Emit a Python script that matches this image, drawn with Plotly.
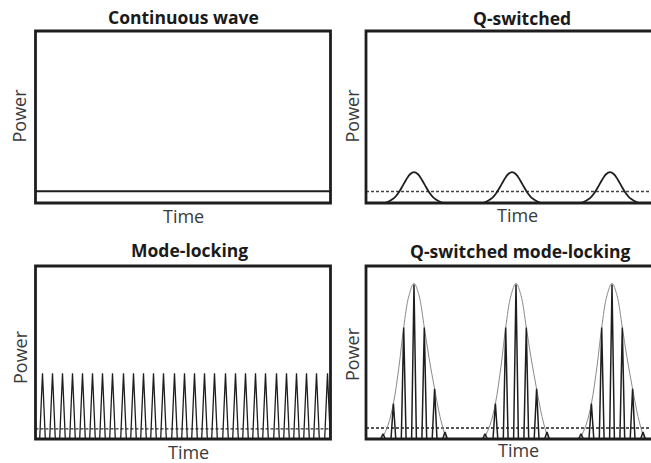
import plotly.graph_objects as go

W, H = 651, 463

# ---------------- data (time in panel units, power relative to panel height) -------------
cw_level = 0.068

qs_pulse_centers = [48, 146, 244]
qs_pulse_offsets = [-29, -24, -20, -16, -12, -8, -4, 0, 4, 8, 12, 16, 20, 24, 29]
qs_pulse_power = [0.0, 0.013, 0.028, 0.055, 0.093, 0.134, 0.167, 0.18,
                  0.167, 0.134, 0.093, 0.055, 0.028, 0.013, 0.0]
qs_threshold = 0.067

ml_spike_times = [7, 17, 27, 37, 47, 57, 67, 77, 88, 98, 108, 118, 128, 139, 149,
                  159, 169, 179, 190, 200, 210, 220, 230, 241, 251, 261, 271, 281, 292]
ml_spike_power = 0.38
ml_threshold = 0.058

qml_group_centers = [48, 150, 246]
qml_spike_offsets = [-31, -20.6, -10.3, 0, 10.3, 20.6, 31]
qml_spike_power = [0.03, 0.205, 0.645, 0.893, 0.645, 0.29, 0.04]
qml_env_offsets = [-32, -26, -20.6, -15, -10.3, -5, 0, 5, 10.3, 15, 20.6, 26, 32]
qml_env_power = [0.0, 0.08, 0.205, 0.42, 0.645, 0.83, 0.9, 0.83, 0.645, 0.47, 0.29, 0.13, 0.0]
qml_threshold = 0.064

titles = ["Continuous wave", "Q-switched", "Mode-locking", "Q-switched mode-locking"]
x_label = "Time"
y_label = "Power"

# ---------------- layout helpers -------------
def px(x):
    return x / W

def py(y):
    return 1 - y / H

LEFT = (35.5, 330.5)
RIGHT = (366.0, 661.0)
TOP = (31.0, 203.0)
BOT = (266.0, 439.0)
XR_LEFT = LEFT[1] - LEFT[0]
XR_RIGHT = W - RIGHT[0]

INK = "#1e1e1e"

fig = go.Figure()

def spikes(times, powers, half):
    xs, ys = [], []
    for t, p in zip(times, powers):
        xs += [t - half, t, t + half, None]
        ys += [0, p, 0, None]
    return xs, ys

# Panel 1: continuous wave
fig.add_trace(go.Scatter(x=[0, XR_LEFT], y=[cw_level, cw_level], mode="lines",
                         line=dict(color=INK, width=2), xaxis="x", yaxis="y"))

# Panel 2: Q-switched
fig.add_trace(go.Scatter(x=[0, XR_RIGHT], y=[qs_threshold, qs_threshold], mode="lines",
                         line=dict(color="#444", width=1.3, dash="3px,2px"), xaxis="x2", yaxis="y2"))
for c in qs_pulse_centers:
    fig.add_trace(go.Scatter(x=[c + o for o in qs_pulse_offsets], y=qs_pulse_power, mode="lines",
                             line=dict(color=INK, width=1.8, shape="spline"), xaxis="x2", yaxis="y2"))

# Panel 3: mode-locking
fig.add_trace(go.Scatter(x=[0, XR_LEFT], y=[ml_threshold, ml_threshold], mode="lines",
                         line=dict(color="#333", width=1.3, dash="3px,2px"), xaxis="x3", yaxis="y3"))
sx, sy = spikes(ml_spike_times, [ml_spike_power] * len(ml_spike_times), 2.8)
fig.add_trace(go.Scatter(x=sx, y=sy, mode="lines", line=dict(color=INK, width=1.3),
                         xaxis="x3", yaxis="y3"))

# Panel 4: Q-switched mode-locking
fig.add_trace(go.Scatter(x=[0, XR_RIGHT], y=[qml_threshold, qml_threshold], mode="lines",
                         line=dict(color="#222", width=1.4, dash="3px,2px"), xaxis="x4", yaxis="y4"))
for c in qml_group_centers:
    fig.add_trace(go.Scatter(x=[c + o for o in qml_env_offsets], y=qml_env_power, mode="lines",
                             line=dict(color="#8a8a8a", width=1, shape="spline"),
                             xaxis="x4", yaxis="y4"))
    sx, sy = spikes([c + o for o in qml_spike_offsets], qml_spike_power, 2.4)
    fig.add_trace(go.Scatter(x=sx, y=sy, mode="lines", line=dict(color=INK, width=1.5),
                             xaxis="x4", yaxis="y4"))

ax_common = dict(showgrid=False, zeroline=False, showticklabels=False, ticks="",
                 showline=False, fixedrange=True)

layout = dict(
    width=W, height=H, autosize=False,
    margin=dict(l=0, r=0, t=0, b=0),
    paper_bgcolor="white", plot_bgcolor="white",
    showlegend=False,
    font=dict(family="Open Sans, sans-serif"),
    xaxis=dict(domain=[px(LEFT[0]), px(LEFT[1])], range=[0, XR_LEFT], anchor="y", **ax_common),
    yaxis=dict(domain=[py(TOP[1]), py(TOP[0])], range=[0, 1], anchor="x", **ax_common),
    xaxis2=dict(domain=[px(RIGHT[0]), 1], range=[0, XR_RIGHT], anchor="y2", **ax_common),
    yaxis2=dict(domain=[py(TOP[1]), py(TOP[0])], range=[0, 1], anchor="x2", **ax_common),
    xaxis3=dict(domain=[px(LEFT[0]), px(LEFT[1])], range=[0, XR_LEFT], anchor="y3", **ax_common),
    yaxis3=dict(domain=[py(BOT[1]), py(BOT[0])], range=[0, 1], anchor="x3", **ax_common),
    xaxis4=dict(domain=[px(RIGHT[0]), 1], range=[0, XR_RIGHT], anchor="y4", **ax_common),
    yaxis4=dict(domain=[py(BOT[1]), py(BOT[0])], range=[0, 1], anchor="x4", **ax_common),
)
fig.update_layout(**layout)

# frames
shapes = []
for (x0, x1), (y0, y1) in [(LEFT, TOP), (RIGHT, TOP), (LEFT, BOT), (RIGHT, BOT)]:
    shapes.append(dict(type="rect", xref="paper", yref="paper",
                       x0=px(x0), x1=px(x1), y0=py(y1), y1=py(y0),
                       line=dict(color=INK, width=2.8), fillcolor="rgba(0,0,0,0)", layer="above"))
fig.update_layout(shapes=shapes)

# texts
ann = []
title_pos = [(183.5, 17.5), (522, 18), (189, 250), (520, 251)]
for t, (x, y) in zip(titles, title_pos):
    ann.append(dict(text="<b>%s</b>" % t, x=px(x), y=py(y), xref="paper", yref="paper",
                    xanchor="center", yanchor="middle", showarrow=False,
                    font=dict(size=17.5, color="#1a1a1a", family="Open Sans, sans-serif")))
time_pos = [(183, 215.5), (517, 215), (188.5, 451.5), (518, 449.5)]
for (x, y) in time_pos:
    ann.append(dict(text=x_label, x=px(x), y=py(y), xref="paper", yref="paper",
                    xanchor="center", yanchor="middle", showarrow=False,
                    font=dict(size=18, color="#3a3a3a", family="Open Sans, sans-serif")))
power_pos = [(19, 115.5), (352, 115.5), (19.5, 357.5), (352, 354)]
for (x, y) in power_pos:
    ann.append(dict(text=y_label, x=px(x), y=py(y), xref="paper", yref="paper",
                    xanchor="center", yanchor="middle", showarrow=False, textangle=-90,
                    font=dict(size=18, color="#3a3a3a", family="Open Sans, sans-serif")))
fig.update_layout(annotations=ann)

fig.write_html("out.html", config={"displayModeBar": False},
               post_script="document.body.style.margin='0px';")
